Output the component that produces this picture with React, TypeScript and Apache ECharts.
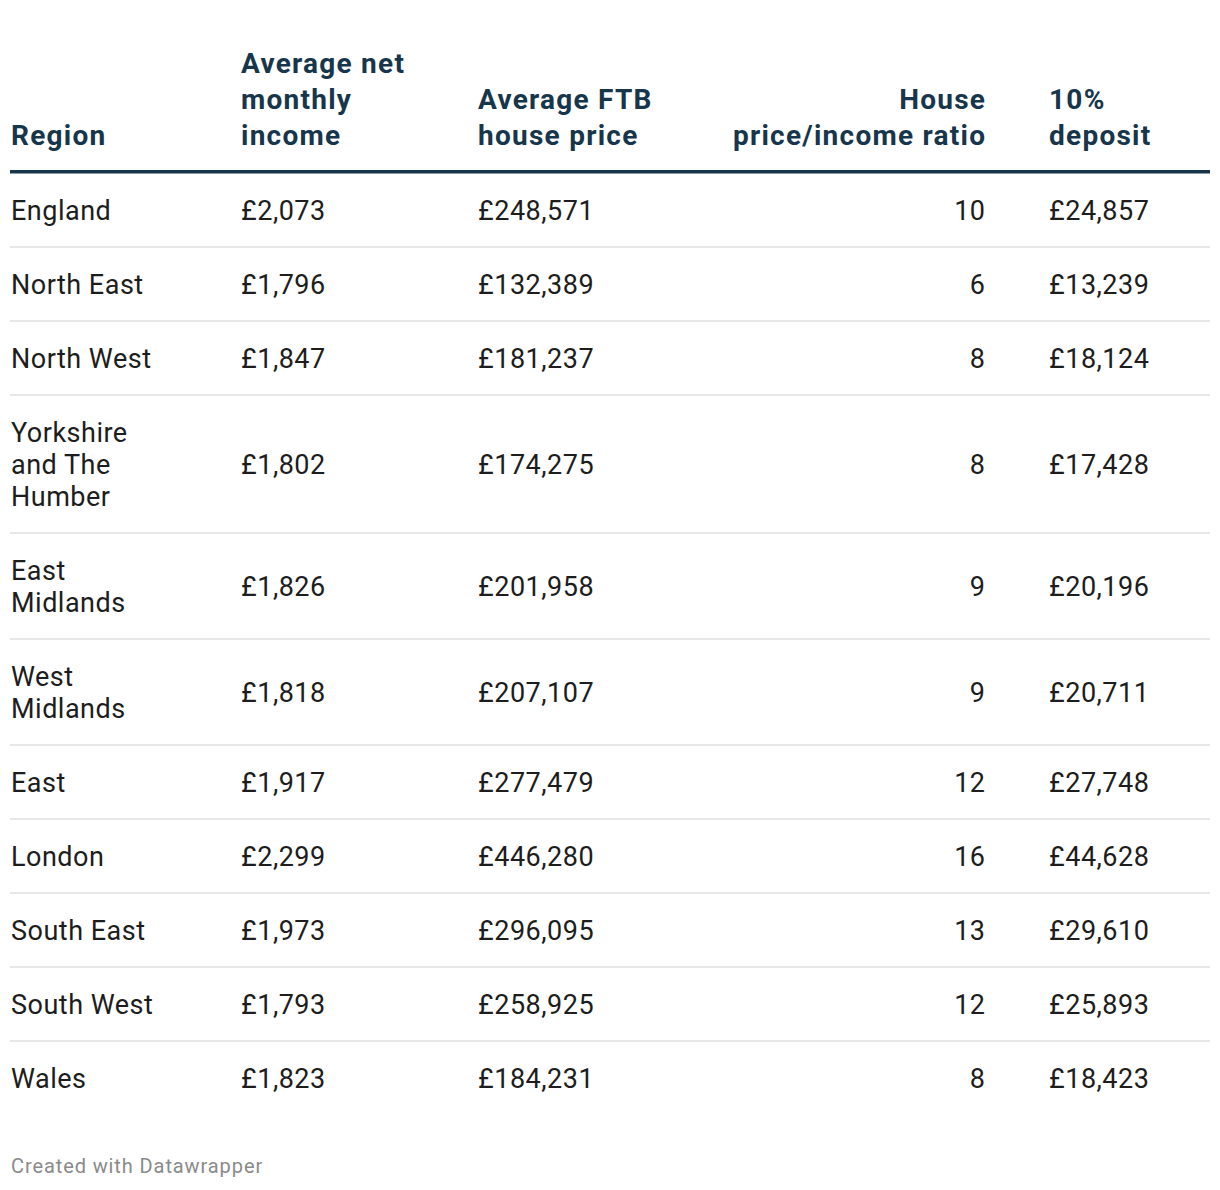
import React, { useEffect, useRef } from "react";
import * as echarts from "echarts";

const headers = ["Region", "Average net\nmonthly\nincome", "Average FTB\nhouse price", "House\nprice/income ratio", "10%\ndeposit"];
const regions = [
  "England",
  "North East",
  "North West",
  "Yorkshire\nand The\nHumber",
  "East\nMidlands",
  "West\nMidlands",
  "East",
  "London",
  "South East",
  "South West",
  "Wales",
];
const income = [2073, 1796, 1847, 1802, 1826, 1818, 1917, 2299, 1973, 1793, 1823];
const housePrice = [248571, 132389, 181237, 174275, 201958, 207107, 277479, 446280, 296095, 258925, 184231];
const ratio = [10, 6, 8, 8, 9, 9, 12, 16, 13, 12, 8];
const deposit = [24857, 13239, 18124, 17428, 20196, 20711, 27748, 44628, 29610, 25893, 18423];
const footer = "Created with Datawrapper";

const fmt = (v: number) => "£" + v.toLocaleString("en-GB");

const HEAD = "#17364b";
const BODY = "#1d1d1d";
const FOOT = "#8a8a8a";
const HEAD_LS = 1.25;
const BODY_LS = 0.5;

const css = `
#tbl text[fill="${HEAD}"] { letter-spacing: ${HEAD_LS}px; }
#tbl text[fill="${BODY}"] { letter-spacing: ${BODY_LS}px; }
#tbl text[fill="${FOOT}"] { letter-spacing: 0.9px; }
`;

export default function App() {
  const ref = useRef<HTMLDivElement>(null);
  useEffect(() => {
    if (!ref.current) return;
    const chart = echarts.init(ref.current, null, { renderer: "svg" });
    const FONT = "Roboto, 'Noto Sans', sans-serif";
    const cols = [
      { x: 11, align: "left" },
      { x: 241, align: "left" },
      { x: 478, align: "left" },
      { x: 985, align: "right" },
      { x: 1049, align: "left" },
    ];
    const elements: any[] = [];
    headers.forEach((h, i) => {
      elements.push({
        type: "text",
        style: {
          text: h,
          x: cols[i].align === "right" ? cols[i].x + HEAD_LS : cols[i].x,
          y: 153,
          textAlign: cols[i].align,
          textVerticalAlign: "bottom",
          fontFamily: FONT,
          fontWeight: 700,
          fontSize: 28,
          lineHeight: 36,
          fill: HEAD,
        },
      });
    });
    elements.push({
      type: "rect",
      shape: { x: 10, y: 170, width: 1200, height: 3.5 },
      style: { fill: HEAD },
    });
    let top = 173;
    regions.forEach((r, i) => {
      const lines = r.split("\n").length;
      const h = 74 + 32 * (lines - 1);
      const cy = top + h / 2 + 0.5;
      const vals = [r, fmt(income[i]), fmt(housePrice[i]), String(ratio[i]), fmt(deposit[i])];
      vals.forEach((v, c) => {
        elements.push({
          type: "text",
          style: {
            text: v,
            x: cols[c].align === "right" ? cols[c].x + BODY_LS : cols[c].x,
            y: cy,
            textAlign: cols[c].align,
            textVerticalAlign: "middle",
            fontFamily: FONT,
            fontSize: 27,
            lineHeight: 32,
            fill: BODY,
          },
        });
      });
      top += h;
      if (i < regions.length - 1) {
        elements.push({
          type: "rect",
          shape: { x: 10, y: top - 1, width: 1200, height: 2 },
          style: { fill: "#e8e8e8" },
        });
      }
    });
    elements.push({
      type: "text",
      style: {
        text: footer,
        x: 11,
        y: 1166,
        textAlign: "left",
        textVerticalAlign: "middle",
        fontFamily: FONT,
        fontSize: 20,
        fill: FOOT,
      },
    });
    chart.setOption({
      animation: false,
      backgroundColor: "#ffffff",
      graphic: { elements },
    });
    return () => chart.dispose();
  }, []);
  return (
    <>
      <style>{css}</style>
      <div
        id="tbl"
        ref={ref}
        style={{ position: "absolute", left: 0, top: 0, width: 1220, height: 1190 }}
      />
    </>
  );
}
